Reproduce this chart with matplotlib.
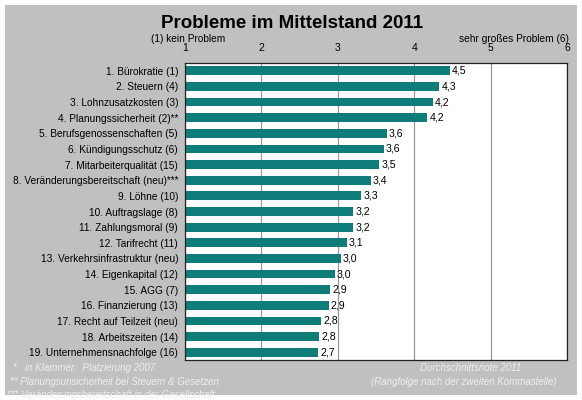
import matplotlib
matplotlib.use("Agg")
import matplotlib.pyplot as plt
from matplotlib.patches import Rectangle

W, H = 582, 400

categories = [
    "1. Bürokratie (1)",
    "2. Steuern (4)",
    "3. Lohnzusatzkosten (3)",
    "4. Planungssicherheit (2)**",
    "5. Berufsgenossenschaften (5)",
    "6. Kündigungsschutz (6)",
    "7. Mitarbeiterqualität (15)",
    "8. Veränderungsbereitschaft (neu)***",
    "9. Löhne (10)",
    "10. Auftragslage (8)",
    "11. Zahlungsmoral (9)",
    "12. Tarifrecht (11)",
    "13. Verkehrsinfrastruktur (neu)",
    "14. Eigenkapital (12)",
    "15. AGG (7)",
    "16. Finanzierung (13)",
    "17. Recht auf Teilzeit (neu)",
    "18. Arbeitszeiten (14)",
    "19. Unternehmensnachfolge (16)",
]
values = [4.47, 4.33, 4.24, 4.17, 3.64, 3.60, 3.54, 3.43, 3.31, 3.20, 3.20,
          3.12, 3.04, 2.96, 2.90, 2.88, 2.78, 2.76, 2.74]
value_labels = ["4,5", "4,3", "4,2", "4,2", "3,6", "3,6", "3,5", "3,4", "3,3",
                "3,2", "3,2", "3,1", "3,0", "3,0", "2,9", "2,9", "2,8", "2,8", "2,7"]
xticks = [1, 2, 3, 4, 5, 6]

font = "Liberation Sans"
bar_color = "#0e7d7a"
grey = "#c0c0c0"

fig = plt.figure(figsize=(W / 100, H / 100), dpi=100, facecolor="white")

# grey panel behind everything
fig.patches.append(Rectangle((5 / W, 1 - 395 / H), 572 / W, 390 / H,
                             transform=fig.transFigure, facecolor=grey,
                             edgecolor="none", zorder=-10))

def px(x, y):
    return x / W, 1 - y / H

ax = fig.add_axes([185 / W, 1 - 360 / H, 382 / W, 297 / H])
ax.set_facecolor("white")

ypos = list(range(len(categories)))
ax.barh(ypos, values, left=0, height=0.56, color=bar_color, zorder=2)
for y, v, lab in zip(ypos, values, value_labels):
    ax.annotate(lab, (v, y), xytext=(1.5, 0), textcoords="offset points",
                va="center", ha="left", fontsize=7.6, family=font, zorder=3)

ax.set_xlim(1, 6)
ax.set_ylim(len(categories) - 0.5, -0.5)
ax.set_xticks(xticks)
ax.set_xticklabels([str(t) for t in xticks], family=font, fontsize=7.5)
ax.xaxis.tick_top()
ax.tick_params(axis="x", length=0, pad=7)
ax.set_yticks(ypos)
ax.set_yticklabels(categories, family=font, fontsize=7.3)
ax.tick_params(axis="y", length=0, pad=5)
ax.grid(axis="x", color="#999999", linewidth=0.9, zorder=1)
for s in ax.spines.values():
    s.set_color("#222222")
    s.set_linewidth(0.9)

fig.text(*px(292, 24), "Probleme im Mittelstand 2011", ha="center", va="center",
         fontsize=13.5, fontweight="bold", family=font)
fig.text(*px(225, 39), "(1) kein Problem", ha="right", va="center",
         fontsize=7.3, family=font)
fig.text(*px(569, 39), "sehr großes Problem (6)", ha="right", va="center",
         fontsize=7.3, family=font)

note_color = "#eeeeee"
fig.text(*px(13, 368), "*   in Klammer:  Platzierung 2007", ha="left", va="center",
         fontsize=7, style="italic", family=font, color=note_color)
fig.text(*px(10, 382), "** Planungsunsicherheit bei Steuern & Gesetzen", ha="left",
         va="center", fontsize=7, style="italic", family=font, color=note_color)
fig.text(*px(7, 395), "*** Veränderungsbereitschaft in der Gesellschaft", ha="left",
         va="center", fontsize=7, style="italic", family=font, color=note_color)
fig.text(*px(471, 368), "Durchschnittsnote 2011", ha="center", va="center",
         fontsize=7, style="italic", family=font, color=note_color)
fig.text(*px(464, 382), "(Rangfolge nach der zweiten Kommastelle)", ha="center",
         va="center", fontsize=7, style="italic", family=font, color=note_color)

fig.savefig("out.png", dpi=100, facecolor="white")
